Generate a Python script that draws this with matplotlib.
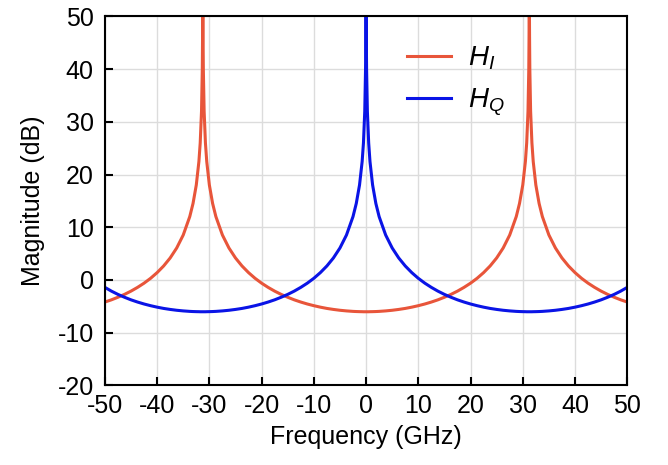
import matplotlib
matplotlib.use("Agg")
import matplotlib.pyplot as plt

plt.rcParams['font.family'] = ['Liberation Sans', 'DejaVu Sans']
plt.rcParams['mathtext.fontset'] = 'custom'
plt.rcParams['mathtext.rm'] = 'Liberation Sans'
plt.rcParams['mathtext.it'] = 'Liberation Sans:italic'
plt.rcParams['axes.unicode_minus'] = False

# frequency points (GHz)
freq = [-50, -48.75, -47.5, -46.25, -45, -43.75, -42.5, -41.25, -40, -38.75, -37.5, -36.25,
        -35, -33.75, -33.125, -32.5, -32, -31.75, -31.5, -31.35, -31.3, -31.25, -31.2, -31.15,
        -31, -30.75, -30.5, -30, -29.375, -28.75, -27.5, -26.25, -25, -23.75, -22.5, -21.25,
        -20, -18.75, -17.5, -16.25, -15, -13.75, -12.5, -11.25, -10, -8.75, -7.5, -6.25,
        -5, -3.75, -2.5, -1.875, -1.25, -0.75, -0.5, -0.25, -0.1, -0.05,
        0,
        0.05, 0.1, 0.25, 0.5, 0.75, 1.25, 1.875, 2.5, 3.75, 5, 6.25, 7.5,
        8.75, 10, 11.25, 12.5, 13.75, 15, 16.25, 17.5, 18.75, 20, 21.25, 22.5,
        23.75, 25, 26.25, 27.5, 28.75, 29.375, 30, 30.5, 30.75, 31, 31.15, 31.2,
        31.25, 31.3, 31.35, 31.5, 31.75, 32, 32.5, 33.125, 33.75, 35, 36.25, 37.5,
        38.75, 40, 41.25, 42.5, 43.75, 45, 46.25, 47.5, 48.75, 50]

# H_I magnitude (dB)
h_i = [-4.18, -3.76, -3.27, -2.73, -2.11, -1.40, -0.60, 0.32, 1.40, 2.66, 4.18, 6.07,
       8.53, 12.02, 14.51, 18.02, 22.46, 25.98, 32.0, 39.95, 45.98, 55, 45.98, 39.95,
       32.0, 25.98, 22.46, 18.02, 14.51, 12.02, 8.53, 6.07, 4.18, 2.66, 1.40, 0.32,
       -0.60, -1.40, -2.11, -2.73, -3.27, -3.76, -4.18, -4.55, -4.87, -5.15, -5.39, -5.58,
       -5.74, -5.86, -5.95, -5.98, -6.00, -6.01, -6.02, -6.02, -6.02, -6.02,
       -6.02,
       -6.02, -6.02, -6.02, -6.02, -6.01, -6.00, -5.98, -5.95, -5.86, -5.74, -5.58, -5.39,
       -5.15, -4.87, -4.55, -4.18, -3.76, -3.27, -2.73, -2.11, -1.40, -0.60, 0.32, 1.40,
       2.66, 4.18, 6.07, 8.53, 12.02, 14.51, 18.02, 22.46, 25.98, 32.0, 39.95, 45.98,
       55, 45.98, 39.95, 32.0, 25.98, 22.46, 18.02, 14.51, 12.02, 8.53, 6.07, 4.18,
       2.66, 1.40, 0.32, -0.60, -1.40, -2.11, -2.73, -3.27, -3.76, -4.18]

# H_Q magnitude (dB)
h_q = [-1.40, -2.11, -2.73, -3.27, -3.76, -4.18, -4.55, -4.87, -5.15, -5.39, -5.58, -5.74,
       -5.86, -5.95, -5.98, -6.00, -6.01, -6.02, -6.02, -6.02, -6.02, -6.02, -6.02, -6.02,
       -6.02, -6.02, -6.01, -6.00, -5.98, -5.95, -5.86, -5.74, -5.58, -5.39, -5.15, -4.87,
       -4.55, -4.18, -3.76, -3.27, -2.73, -2.11, -1.40, -0.60, 0.32, 1.40, 2.66, 4.18,
       6.07, 8.53, 12.02, 14.51, 18.02, 22.46, 25.98, 32.0, 39.95, 45.98,
       55,
       45.98, 39.95, 32.0, 25.98, 22.46, 18.02, 14.51, 12.02, 8.53, 6.07, 4.18, 2.66,
       1.40, 0.32, -0.60, -1.40, -2.11, -2.73, -3.27, -3.76, -4.18, -4.55, -4.87, -5.15,
       -5.39, -5.58, -5.74, -5.86, -5.95, -5.98, -6.00, -6.01, -6.02, -6.02, -6.02, -6.02,
       -6.02, -6.02, -6.02, -6.02, -6.02, -6.01, -6.00, -5.98, -5.95, -5.86, -5.74, -5.58,
       -5.39, -5.15, -4.87, -4.55, -4.18, -3.76, -3.27, -2.73, -2.11, -1.40]

fig = plt.figure(figsize=(6.68, 4.65), dpi=100)
ax = fig.add_axes([0.157, 0.171, 0.782, 0.794])

ax.plot(freq, h_i, color='#E8553A', lw=2.2, label=r'$H_I$')
ax.plot(freq, h_q, color='#0A14E6', lw=2.2, label=r'$H_Q$')

ax.set_xlim(-50, 50)
ax.set_ylim(-20, 50)
ax.set_xticks(range(-50, 51, 10))
ax.set_yticks(range(-20, 51, 10))
ax.grid(True, color='#dcdcdc', lw=1)
ax.set_axisbelow(True)

ax.tick_params(direction='in', length=6, width=1.5, labelsize=18)
ax.tick_params(axis='x', pad=6)
ax.tick_params(axis='y', pad=8)
for s in ax.spines.values():
    s.set_linewidth(1.5)

ax.set_xlabel('Frequency (GHz)', fontsize=18, labelpad=5)
ax.set_ylabel('Magnitude (dB)', fontsize=18, labelpad=9)

ax.legend(loc='upper left', bbox_to_anchor=(0.53, 0.99), frameon=False,
          fontsize=20, handlelength=1.6, labelspacing=0.5, handletextpad=0.6)

fig.savefig('out.png', dpi=100)
